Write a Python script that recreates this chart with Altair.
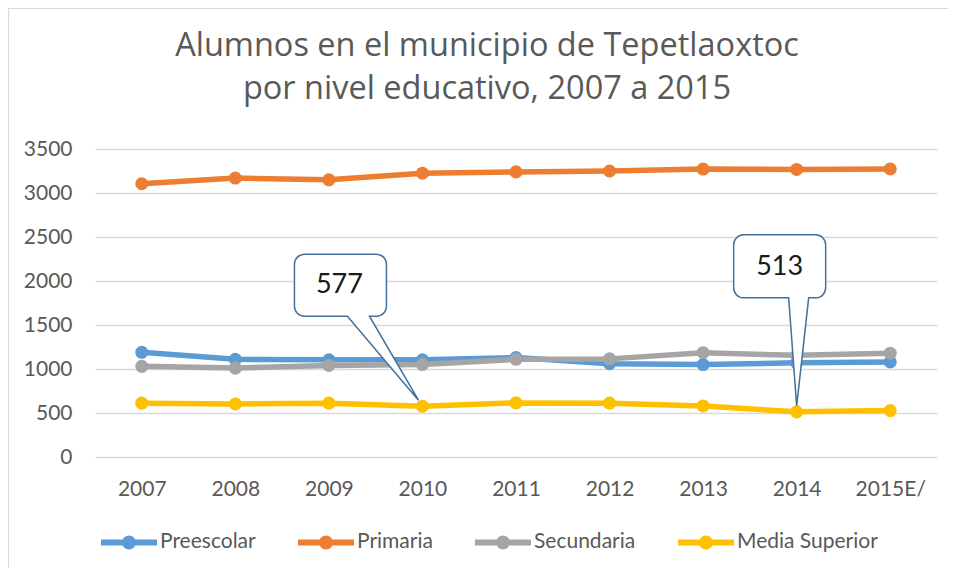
import altair as alt
import pandas as pd

# ---- data ----
years = ["2007", "2008", "2009", "2010", "2011", "2012", "2013", "2014", "2015E/"]
preescolar = [1190, 1110, 1105, 1105, 1130, 1060, 1050, 1070, 1080]
primaria = [3105, 3170, 3150, 3225, 3240, 3250, 3272, 3268, 3273]
secundaria = [1030, 1010, 1040, 1050, 1110, 1115, 1185, 1155, 1180]
media_superior = [612, 603, 612, 577, 615, 612, 580, 513, 527]
series = ["Preescolar", "Primaria", "Secundaria", "Media Superior"]
colors = ["#5B9BD5", "#ED7D31", "#A5A5A5", "#FFC000"]
y_ticks = [0, 500, 1000, 1500, 2000, 2500, 3000, 3500]
title_lines = ["Alumnos en el municipio de Tepetlaoxtoc", "por nivel educativo, 2007 a 2015"]
callout_years = ["2010", "2014"]
callout_serie = "Media Superior"

rows = []
for s, vals in zip(series, [preescolar, primaria, secundaria, media_superior]):
    for y, v in zip(years, vals):
        rows.append({"year": y, "serie": s, "valor": v})
df = pd.DataFrame(rows)

FONT = "Lato"
GREY = "#595959"

legend_symbol = ("M-1,0 L1,0 M-0.143,0 A0.143,0.143 0 1 1 0.143,0 "
                 "A0.143,0.143 0 1 1 -0.143,0 Z")
legend = alt.Legend(
    title=None, orient="none", legendX=3, legendY=362, direction="horizontal",
    columns=4, symbolType=legend_symbol, symbolSize=3136, symbolStrokeWidth=6,
    labelFont=FONT, labelFontSize=21, labelColor=GREY, labelOffset=0,
    columnPadding=30, padding=0,
)

x_enc = alt.X("year:N", sort=years, scale=alt.Scale(type="point", padding=0.5),
              axis=alt.Axis(title=None, labelPadding=21, labelAngle=0))
y_enc = alt.Y("valor:Q", scale=alt.Scale(domain=[0, 3500], nice=False),
              axis=alt.Axis(title=None, values=y_ticks, labelPadding=23, format="d"))
c_enc = alt.Color("serie:N", sort=series,
                  scale=alt.Scale(domain=series, range=colors), legend=legend)

base = alt.Chart(df)
lines = base.mark_line(strokeWidth=5.5, strokeCap="round", strokeJoin="round").encode(
    x=x_enc, y=y_enc, color=c_enc)
points = base.mark_point(filled=True, size=170, opacity=1).encode(
    x=x_enc, y=y_enc, color=c_enc)

# callout shapes (pixel offsets relative to the annotated point)
path_2010 = ("M-118,-152 H-46 A10,10 0 0 1 -36,-142 V-100 A10,10 0 0 1 -46,-90 "
             "H-53 L-4,-6 L-75,-90 H-118 A10,10 0 0 1 -128,-100 V-142 "
             "A10,10 0 0 1 -118,-152 Z")
path_2014 = ("M-53,-177 H19 A10,10 0 0 1 29,-167 V-124 A10,10 0 0 1 19,-114 "
             "H12 L0,-6 L-8,-114 H-53 A10,10 0 0 1 -63,-124 V-167 "
             "A10,10 0 0 1 -53,-177 Z")


def callout(year, path, dx, dy):
    src = base.transform_filter(
        (alt.datum.serie == callout_serie) & (alt.datum.year == year))
    shape = src.mark_point(shape=path, size=4, filled=True, fill="white",
                           stroke="#41719C", strokeWidth=1.5, opacity=1).encode(
        x=x_enc, y=y_enc)
    label = src.mark_text(dx=dx, dy=dy, font=FONT, fontSize=27, color="#1a1a1a",
                          align="center", baseline="middle").encode(
        x=x_enc, y=y_enc, text=alt.Text("valor:Q"))
    return shape + label


border = alt.Chart(alt.Data(values=[{"k": 1}])).mark_rect(
    fill="transparent", stroke="#D9D9D9", strokeWidth=1.2).encode(
    x=alt.value(-86.5), x2=alt.value(1000), y=alt.value(-140.5), y2=alt.value(800))

chart = alt.layer(
    border, lines, points,
    callout(callout_years[0], path_2010, -83, -121),
    callout(callout_years[1], path_2014, -17, -145),
).properties(
    width=842, height=308, background="white",
    title=alt.TitleParams(title_lines, font="Open Sans", fontSize=32.5, fontWeight="normal",
                          color=GREY, lineHeight=43, anchor="middle", dx=-29,
                          offset=0, dy=98),
    autosize=alt.AutoSizeParams(type="none"),
    padding={"left": 87, "top": 141, "right": 11, "bottom": 111},
).configure_axis(
    labelFont=FONT, labelFontSize=21, labelColor=GREY, gridColor="#D9D9D9",
    gridWidth=1.3, domain=False, ticks=False,
).configure_view(stroke=None)

chart.save("out.html", embed_options={"renderer": "svg", "actions": False})
